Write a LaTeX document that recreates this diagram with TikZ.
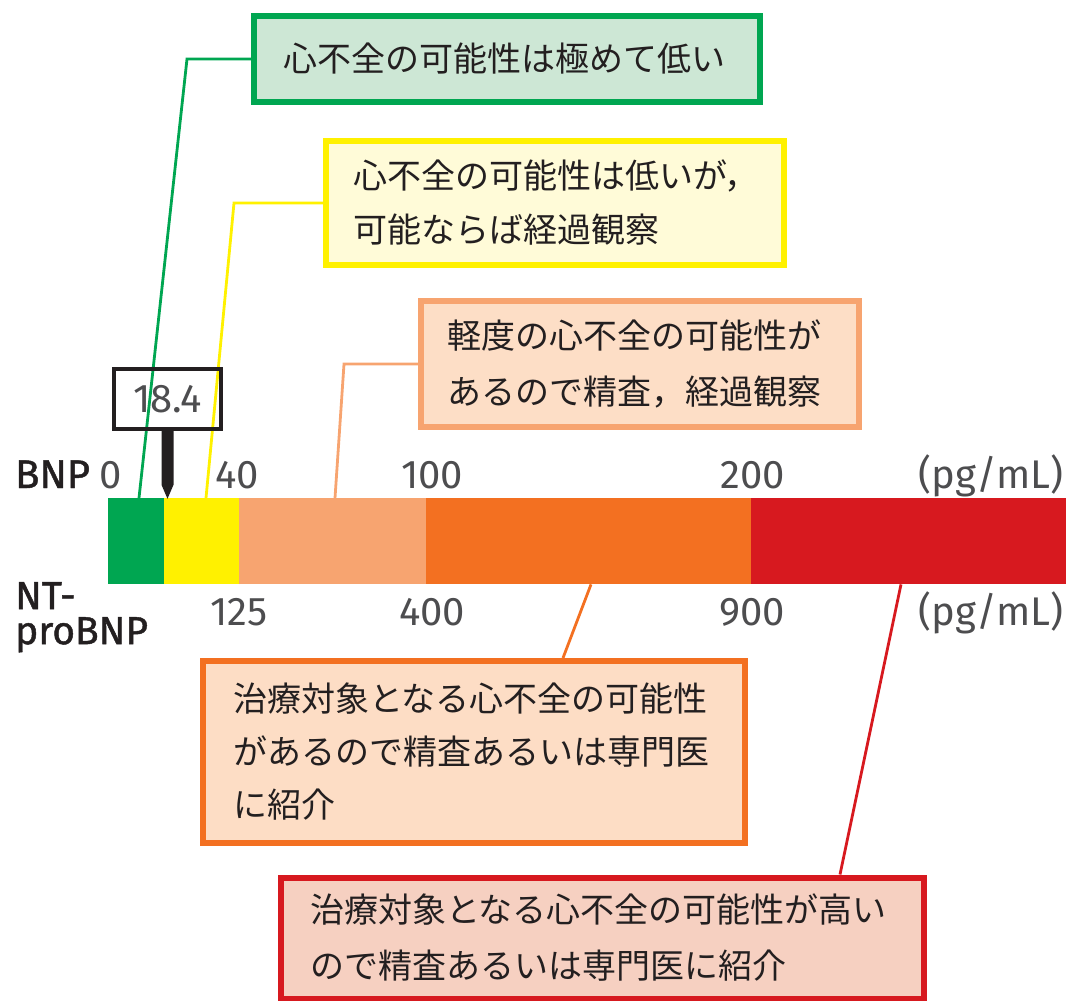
\documentclass[tikz,border=0pt]{standalone}
\usepackage{fontspec}
\newfontfamily\jp{Noto Sans CJK JP}
\newfontfamily\numlight{Fira Sans}
\newfontfamily\nummed[FakeBold=1.2]{Fira Sans}
\usetikzlibrary{calc}
\definecolor{ink}{HTML}{231F20}
\definecolor{numgray}{HTML}{4D4D4F}
\definecolor{cgreen}{HTML}{00A651}
\definecolor{cyellow}{HTML}{FFF100}
\definecolor{clorange}{HTML}{F7A470}
\definecolor{corange}{HTML}{F37021}
\definecolor{cred}{HTML}{D7191F}
\definecolor{fgreen}{HTML}{CDE7D5}
\definecolor{fyellow}{HTML}{FFFBD8}
\definecolor{florange}{HTML}{FDDEC6}
\definecolor{forange}{HTML}{FDDDC5}
\definecolor{fred}{HTML}{F6D0C1}
\tikzset{
  msgbox/.style={draw, line width=6pt, inner ysep=0pt, align=left, text=ink,
    font=\jp\fontsize{34}{54}\selectfont},
  seg/.style={anchor=north west, inner sep=0pt, minimum height=86pt, draw=none},
  numlab/.style={inner sep=0pt, anchor=base, text=numgray, font=\numlight\fontsize{40}{40}\selectfont},
  namelab/.style={inner sep=0pt, anchor=base west, text=ink, font=\nummed\fontsize{40}{40}\selectfont},
  conn/.style={line width=2.8pt, line join=miter},
  valbox/.style={draw=ink, line width=3.5pt, minimum width=107pt, minimum height=60pt,
    inner sep=0pt, text=numgray, font=\numlight\fontsize{40}{40}\selectfont}
}
\begin{document}
\begin{tikzpicture}[x=1pt,y=-1pt]
\useasboundingbox (0,0) rectangle (1071,1001);

% bar segments
\node[seg, fill=cgreen,   minimum width=56pt]  (s1) at (108,498) {};
\node[seg, fill=cyellow,  minimum width=75pt]  (s2) at (164,498) {};
\node[seg, fill=clorange, minimum width=187pt] (s3) at (239,498) {};
\node[seg, fill=corange,  minimum width=325pt] (s4) at (426,498) {};
\node[seg, fill=cred,     minimum width=315pt] (s5) at (751,498) {};

% message boxes
\node[msgbox, draw=cgreen, fill=fgreen, minimum height=86pt, inner xsep=29pt, text width=448pt] (gbox) at (507,59)
  {心不全の可能性は極めて低い};
\node[msgbox, draw=cyellow, fill=fyellow, minimum height=124pt, inner xsep=27pt, text width=404pt] (ybox) at (555,203)
  {心不全の可能性は低いが，\\可能ならば経過観察};
\node[msgbox, draw=clorange, fill=florange, minimum height=126pt, inner xsep=26pt, text width=386pt,
  font=\jp\fontsize{34}{56}\selectfont] (lbox) at (640,364)
  {軽度の心不全の可能性が\\あるので精査，経過観察};
\node[msgbox, draw=corange, fill=forange, minimum height=182pt, inner xsep=30pt, text width=482pt,
  font=\jp\fontsize{34}{53}\selectfont] (obox) at (474,752)
  {治療対象となる心不全の可能性\\があるので精査あるいは専門医\\に紹介};
\node[msgbox, draw=cred, fill=fred, minimum height=121pt, inner xsep=29pt, text width=585pt,
  font=\jp\fontsize{34}{56}\selectfont] (rbox) at (602.5,938)
  {治療対象となる心不全の可能性が高い\\ので精査あるいは専門医に紹介};

% connectors
\coordinate (gbend) at ($(gbox.west)+(-64,0)$);
\coordinate (gend)  at ($(s1.north west)+(31,0)$);
\draw[conn, cgreen] (gbox.west) -- (gbend) -- (gend);
\coordinate (ybend) at ($(ybox.west)+(-89,0)$);
\coordinate (yend)  at ($(s2.north west)+(42,0)$);
\draw[conn, cyellow] (ybox.west) -- (ybend) -- (yend);
\coordinate (lbend) at ($(lbox.west)+(-74,0)$);
\coordinate (lend)  at ($(s3.north west)+(96,0)$);
\draw[conn, clorange] (lbox.west) -- (lbend) -- (lend);
\coordinate (ostart) at ($(obox.north west)+(363,0)$);
\coordinate (oend)   at ($(s4.south west)+(165,0)$);
\draw[conn, corange] (ostart) -- (oend);
\coordinate (rstart) at ($(rbox.north west)+(562,0)$);
\coordinate (rend)   at ($(s5.south west)+(150,0)$);
\draw[conn, cred] (rstart) -- (rend);

% value marker
\node[valbox] (val) at (167.5,399) {18.4};
\fill[ink] ($(val.south)+(-6,0)$) -- ($(val.south)+(6,0)$) -- ($(val.south)+(6,54)$)
  -- ($(val.south)+(0,68)$) -- ($(val.south)+(-6,54)$) -- cycle;

% axis labels
\node[namelab] (bnp) at (15,488) {BNP};
\node[numlab] (b0)   at (111,488) {0};
\node[numlab] (b40)  at (237,488) {40};
\node[numlab] (b100) at (432,488) {100};
\node[numlab] (b200) at (753,488) {200};
\node[numlab] (bunit) at (991,488) {(pg/mL)};

\node[namelab, anchor=north west, align=left, font=\nummed\fontsize{39}{35}\selectfont] (ntpro) at (15,582) {NT-\\proBNP};
\node[numlab] (n125) at (239,625) {125};
\node[numlab] (n400) at (432,625) {400};
\node[numlab] (n900) at (752,625) {900};
\node[numlab] (nunit) at (991,625) {(pg/mL)};
\end{tikzpicture}
\end{document}
